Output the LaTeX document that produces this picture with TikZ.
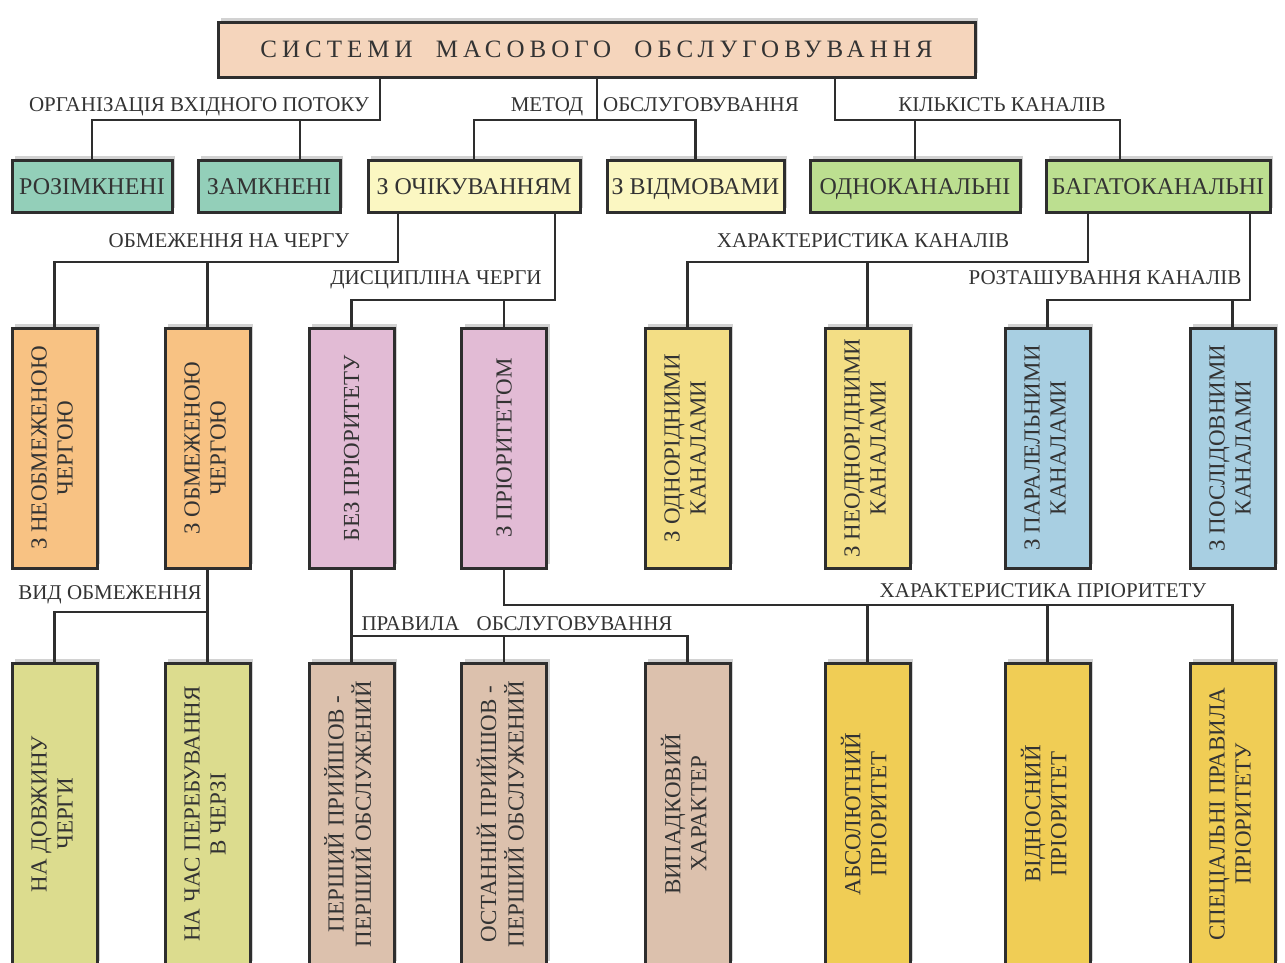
\documentclass[tikz,border=0pt]{standalone}
\usepackage{fontspec}
\setmainfont{Liberation Serif}
\newfontfamily\lblfont{Liberation Serif}
\newfontfamily\ttlfont[LetterSpace=20]{Liberation Serif}
\usepackage{graphicx}
\usepackage{tikz}
\usetikzlibrary{shadows}

\definecolor{peach}{HTML}{F5D5BC}
\definecolor{tealbox}{HTML}{93CFB9}
\definecolor{paleyel}{HTML}{FBF7C2}
\definecolor{palegrn}{HTML}{BCDF90}
\definecolor{orangebox}{HTML}{F8C283}
\definecolor{pinkbox}{HTML}{E2BBD5}
\definecolor{yelbox}{HTML}{F3DE85}
\definecolor{bluebox}{HTML}{A8CFE2}
\definecolor{olivebox}{HTML}{DCDC8E}
\definecolor{tanbox}{HTML}{DCC1AD}
\definecolor{goldbox}{HTML}{F0CD55}
\definecolor{txt}{HTML}{333333}
\definecolor{edge}{HTML}{2E2E2E}

\newcommand{\vlab}[2]{\rotatebox{90}{\begin{tabular}{@{}c@{}}#1\\#2\end{tabular}}}

\tikzset{
  box/.style={draw=edge, line width=3pt, inner sep=0pt, text=txt,
    drop shadow={shadow xshift=3pt, shadow yshift=4pt, opacity=0.25, fill=black!70},
    font=\fontsize{23}{26}\selectfont},
  hbox/.style={box, minimum height=52pt, text height=16pt, text depth=0pt,
    font=\fontsize{24}{26}\selectfont},
  vbox/.style={box, minimum width=85pt},
  lbl/.style={anchor=base, inner sep=0pt, text=txt, font=\lblfont\fontsize{21}{21}\selectfont},
  link/.style={draw=edge, line width=2.6pt}
}

\begin{document}
\begin{tikzpicture}[x=1pt, y=-1pt]
        \path[use as bounding box, clip] (0,0) rectangle (1285,962);

        % root
        \node[box, fill=peach, minimum width=757pt, minimum height=55pt, font=\fontsize{25}{25}\selectfont] (sys) at (596.5,49.5)
          {\ttlfont СИСТЕМИ\hspace{12pt} МАСОВОГО\hspace{12pt} ОБСЛУГОВУВАННЯ};

        % first row
        \node[hbox, fill=tealbox, minimum width=160pt] (rozim) at (92,186) {РОЗІМКНЕНІ};
        \node[hbox, fill=tealbox, minimum width=142pt] (zamk) at (269,186) {ЗАМКНЕНІ};
        \node[hbox, fill=paleyel, minimum width=212pt] (ochik) at (474,186) {З ОЧІКУВАННЯМ};
        \node[hbox, fill=paleyel, minimum width=177pt] (vidm) at (695.5,186) {З ВІДМОВАМИ};
        \node[hbox, fill=palegrn, minimum width=210pt] (odno) at (915,186) {ОДНОКАНАЛЬНІ};
        \node[hbox, fill=palegrn, minimum width=224pt] (bagato) at (1158,186) {БАГАТОКАНАЛЬНІ};

        % second row
        \node[vbox, fill=orangebox, minimum height=240pt] (neobm) at (54.5,448) {\vlab{З НЕОБМЕЖЕНОЮ}{ЧЕРГОЮ}};
        \node[vbox, fill=orangebox, minimum height=240pt] (obm) at (207.5,448) {\vlab{З ОБМЕЖЕНОЮ}{ЧЕРГОЮ}};
        \node[vbox, fill=pinkbox, minimum height=240pt] (bezpr) at (351.5,448) {\rotatebox{90}{БЕЗ ПРІОРИТЕТУ}};
        \node[vbox, fill=pinkbox, minimum height=240pt] (zpr) at (504,448) {\rotatebox{90}{З ПРІОРИТЕТОМ}};
        \node[vbox, fill=yelbox, minimum height=240pt] (odnor) at (687.5,448) {\vlab{З ОДНОРІДНИМИ}{КАНАЛАМИ}};
        \node[vbox, fill=yelbox, minimum height=240pt] (neodnor) at (867.5,448) {\vlab{З НЕОДНОРІДНИМИ}{КАНАЛАМИ}};
        \node[vbox, fill=bluebox, minimum height=240pt] (paral) at (1047.5,448) {\vlab{З ПАРАЛЕЛЬНИМИ}{КАНАЛАМИ}};
        \node[vbox, fill=bluebox, minimum height=240pt] (poslid) at (1232.5,448) {\vlab{З ПОСЛІДОВНИМИ}{КАНАЛАМИ}};

        % third row
        \node[vbox, fill=olivebox, minimum height=302pt] (dovzh) at (54.5,814) {\vlab{НА ДОВЖИНУ}{ЧЕРГИ}};
        \node[vbox, fill=olivebox, minimum height=302pt] (chas) at (207.5,814) {\vlab{НА ЧАС ПЕРЕБУВАННЯ}{В ЧЕРЗІ}};
        \node[vbox, fill=tanbox, minimum height=302pt] (persh) at (351.5,814) {\vlab{ПЕРШИЙ ПРИЙШОВ -}{ПЕРШИЙ ОБСЛУЖЕНИЙ}};
        \node[vbox, fill=tanbox, minimum height=302pt] (ostan) at (504,814) {\vlab{ОСТАННІЙ ПРИЙШОВ -}{ПЕРШИЙ ОБСЛУЖЕНИЙ}};
        \node[vbox, fill=tanbox, minimum height=302pt] (vypad) at (687.5,814) {\vlab{ВИПАДКОВИЙ}{ХАРАКТЕР}};
        \node[vbox, fill=goldbox, minimum height=302pt] (absol) at (867.5,814) {\vlab{АБСОЛЮТНИЙ}{ПРІОРИТЕТ}};
        \node[vbox, fill=goldbox, minimum height=302pt] (vidn) at (1047.5,814) {\vlab{ВІДНОСНИЙ}{ПРІОРИТЕТ}};
        \node[vbox, fill=goldbox, minimum height=302pt] (spec) at (1232.5,814) {\vlab{СПЕЦІАЛЬНІ ПРАВИЛА}{ПРІОРИТЕТУ}};

        % bus points
        \coordinate (orgbus) at (380,120);
        \coordinate (metbus) at (597,120);
        \coordinate (kanbus) at (835,120);
        \coordinate (obmbus) at (398,262);
        \coordinate (dysbus) at (555,300);
        \coordinate (harbus) at (1088,262);
        \coordinate (roztbus) at (1250,300);
        \coordinate (vydbus) at (207.5,612);
        \coordinate (pravbus) at (351.5,636);
        \coordinate (priobus) at (504,605);

        % connectors
        \draw[link] (sys.south -| orgbus) -- (orgbus) -| (rozim.north);
        \draw[link] (orgbus) -| ([xshift=31pt]zamk.north);
        \draw[link] (sys.south -| metbus) -- (metbus) -| (ochik.north);
        \draw[link] (metbus) -| (vidm.north);
        \draw[link] (sys.south -| kanbus) -- (kanbus) -| (odno.north);
        \draw[link] (kanbus) -| ([xshift=-38pt]bagato.north);

        \draw[link] (ochik.south -| obmbus) -- (obmbus) -| (neobm.north);
        \draw[link] (obmbus) -| (obm.north);
        \draw[link] (ochik.south -| dysbus) -- (dysbus) -| (bezpr.north);
        \draw[link] (dysbus) -| (zpr.north);
        \draw[link] (bagato.south -| harbus) -- (harbus) -| (odnor.north);
        \draw[link] (harbus) -| (neodnor.north);
        \draw[link] (bagato.south -| roztbus) -- (roztbus) -| (paral.north);
        \draw[link] (roztbus) -| (poslid.north);

        \draw[link] (obm.south) -- (chas.north);
        \draw[link] (vydbus) -| (dovzh.north);
        \draw[link] (bezpr.south) -- (persh.north);
        \draw[link] (pravbus) -| (vypad.north);
        \draw[link] (ostan.north) -- (ostan.north |- pravbus);
        \draw[link] (zpr.south) -- (priobus) -| (spec.north);
        \draw[link] (absol.north) -- (absol.north |- priobus);
        \draw[link] (vidn.north) -- (vidn.north |- priobus);

        % labels
        \node[lbl] (orglbl) at (199,111) {ОРГАНІЗАЦІЯ ВХІДНОГО ПОТОКУ};
        \node[lbl] (metlbl) at (547,111) {МЕТОД};
        \node[lbl] (obsllbl) at (701,111) {ОБСЛУГОВУВАННЯ};
        \node[lbl] (kanlbl) at (1002,111) {КІЛЬКІСТЬ КАНАЛІВ};
        \node[lbl] (obmlbl) at (229,247) {ОБМЕЖЕННЯ НА ЧЕРГУ};
        \node[lbl] (dyslbl) at (436,284) {ДИСЦИПЛІНА ЧЕРГИ};
        \node[lbl] (harlbl) at (863,247) {ХАРАКТЕРИСТИКА КАНАЛІВ};
        \node[lbl] (roztlbl) at (1105,284) {РОЗТАШУВАННЯ КАНАЛІВ};
        \node[lbl] (vydlbl) at (110,599) {ВИД ОБМЕЖЕННЯ};
        \node[lbl] (pravlbl) at (517,630) {ПРАВИЛА\hspace{12pt} ОБСЛУГОВУВАННЯ};
        \node[lbl] (priolbl) at (1043,597) {ХАРАКТЕРИСТИКА ПРІОРИТЕТУ};
    \end{tikzpicture}
\end{document}
